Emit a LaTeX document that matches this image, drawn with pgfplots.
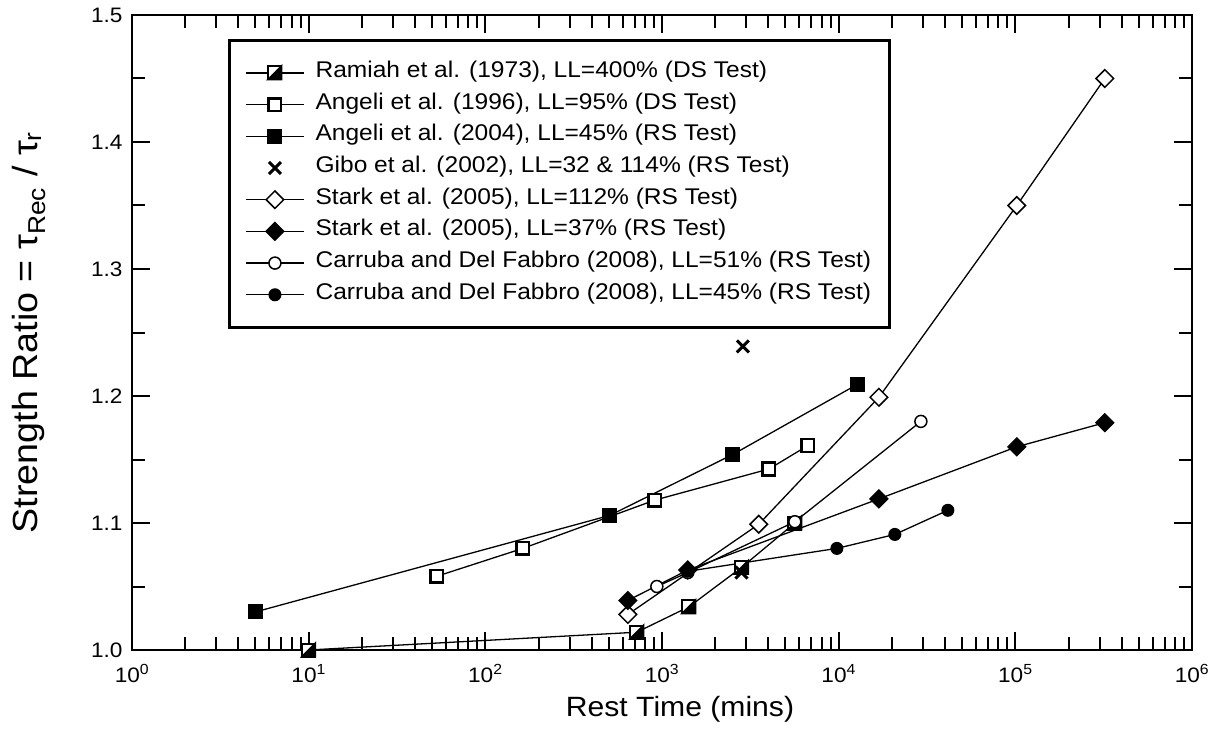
\documentclass[border=0pt]{standalone}
\usepackage{fontspec}
\setmainfont{Liberation Sans}[FakeStretch=1.08]
\usepackage{pgfplots}
\pgfplotsset{compat=1.18}
\pgfdeclareplotmark{halfsq}{%
  \pgfpathrectangle{\pgfqpoint{-\pgfplotmarksize}{-\pgfplotmarksize}}{\pgfqpoint{2\pgfplotmarksize}{2\pgfplotmarksize}}%
  \pgfsetfillcolor{white}\pgfusepathqfillstroke
  \pgfpathmoveto{\pgfqpoint{\pgfplotmarksize}{\pgfplotmarksize}}%
  \pgfpathlineto{\pgfqpoint{\pgfplotmarksize}{-\pgfplotmarksize}}%
  \pgfpathlineto{\pgfqpoint{-\pgfplotmarksize}{-\pgfplotmarksize}}%
  \pgfpathclose
  \pgfsetfillcolor{black}\pgfusepathqfillstroke
}
\begin{document}
\begin{tikzpicture}
\useasboundingbox (-132bp,-101bp) rectangle (1084bp,650bp);
\begin{axis}[
  scale only axis, width=1060bp, height=635bp,
  at={(0,0)}, anchor=south west,
  xmode=log, xmin=1, xmax=1e6, ymin=1, ymax=1.5,
  clip=false,
  xtick={1,10,100,1000,10000,100000,1000000},
  xticklabels={10\textsuperscript{0},10\textsuperscript{1},10\textsuperscript{2},10\textsuperscript{3},10\textsuperscript{4},10\textsuperscript{5},10\textsuperscript{6}},
  ytick={1,1.1,1.2,1.3,1.4,1.5},
  yticklabels={1.0,1.1,1.2,1.3,1.4,1.5},
  minor y tick num=1,
  axis line style={line width=2.5bp},
  tick style={line width=2bp, black},
  major tick length=18bp, minor tick length=13bp,
  tick label style={font=\fontsize{21}{25}\selectfont},
  xticklabel style={anchor=base, yshift=-32bp},
  yticklabel style={anchor=east, xshift=-6bp},
  every axis x label/.style={at={(axis description cs:0.517,-0.1055)}, anchor=base, font=\fontsize{28}{32}\selectfont},
  every axis y label/.style={at={(axis description cs:-0.0896,0.5)}, rotate=90, anchor=base, font=\fontsize{35}{40}\selectfont},
  xlabel={Rest Time (mins)},
  ylabel={Strength Ratio = τ\textsubscript{Rec} / τ\textsubscript{r}},
  legend image code/.code={\draw[mark repeat=2,mark phase=2,#1] plot coordinates {(0bp,0bp) (29bp,0bp) (58bp,0bp)};},
  legend cell align=left,
  legend style={at={(axis description cs:0.0906,0.962)}, anchor=north west,
    draw=black, line width=2.5bp, font=\fontsize{22.8}{26}\selectfont,
    inner xsep=16bp, inner ysep=20bp, row sep=6.7bp, column sep=9bp,
    nodes={inner sep=2bp, text height=15bp, text depth=6bp}},
]
% Ramiah et al. (1973)
\addplot[black, line width=1.3bp, mark=halfsq, mark size=6.5bp, mark options={line width=2bp}]
  coordinates {(10,1.000) (720,1.014) (1420,1.034) (2820,1.065) (5650,1.100)};
\addlegendentry{Ramiah et al. (1973), LL=400\% (DS Test)}
% Angeli et al. (1996)
\addplot[black, line width=1.3bp, mark=square*, mark size=6.3bp, mark options={fill=white, line width=2.5bp}]
  coordinates {(53,1.058) (163,1.080) (910,1.118) (4030,1.1425) (6700,1.161)};
\addlegendentry{Angeli et al. (1996), LL=95\% (DS Test)}
% Angeli et al. (2004)
\addplot[black, line width=1.3bp, mark=square*, mark size=7bp, mark options={line width=1bp}]
  coordinates {(5,1.030) (507,1.106) (2520,1.154) (12700,1.209)};
\addlegendentry{Angeli et al. (2004), LL=45\% (RS Test)}
% Gibo et al. (2002)
\addplot[black, only marks, mark=x, mark size=8.5bp, mark options={line width=3bp}]
  coordinates {(2870,1.239) (2820,1.061)};
\addlegendentry{Gibo et al. (2002), LL=32 \& 114\% (RS Test)}
% Stark et al. (2005) LL=112
\addplot[black, line width=1.3bp, mark=square*, mark size=6.2bp, mark options={rotate=45, fill=white, line width=1.5bp}]
  coordinates {(641,1.028) (3530,1.099) (16900,1.199) (101900,1.350) (321000,1.450)};
\addlegendentry{Stark et al. (2005), LL=112\% (RS Test)}
% Stark et al. (2005) LL=37
\addplot[black, line width=1.3bp, mark=square*, mark size=6.2bp, mark options={rotate=45, line width=1.5bp}]
  coordinates {(641,1.039) (1400,1.063) (16900,1.119) (101900,1.160) (321000,1.179)};
\addlegendentry{Stark et al. (2005), LL=37\% (RS Test)}
% Carruba and Del Fabbro (2008) LL=51
\addplot[black, line width=1.3bp, mark=*, mark size=6bp, mark options={fill=white, line width=1.5bp}]
  coordinates {(935,1.050) (1400,1.061) (5650,1.101) (29200,1.180)};
\addlegendentry{Carruba and Del Fabbro (2008), LL=51\% (RS Test)}
% Carruba and Del Fabbro (2008) LL=45
\addplot[black, line width=1.3bp, mark=*, mark size=6bp, mark options={line width=1bp}]
  coordinates {(1400,1.062) (9770,1.080) (20800,1.091) (41500,1.110)};
\addlegendentry{Carruba and Del Fabbro (2008), LL=45\% (RS Test)}
\end{axis}
\end{tikzpicture}
\end{document}
